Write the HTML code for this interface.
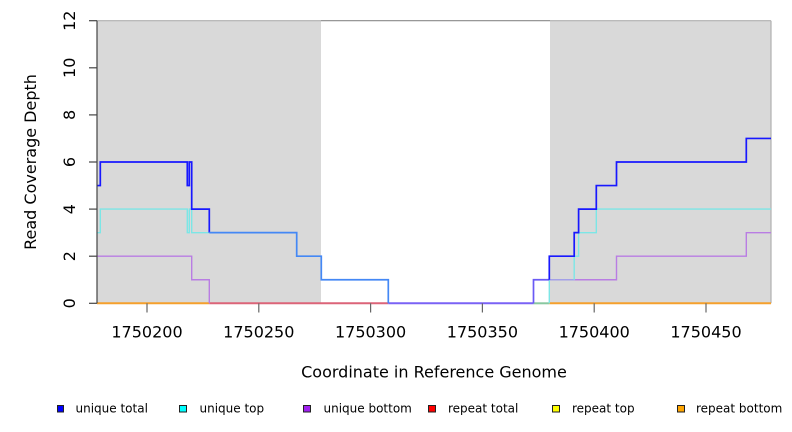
<!DOCTYPE html>
<html>
<head>
<meta charset="utf-8">
<style>
  html,body{margin:0;padding:0;background:#fff;}
  svg{display:block;}
  text{font-family:"DejaVu Sans","Liberation Sans",sans-serif;fill:#000;}
</style>
</head>
<body>
<svg width="792" height="432" viewBox="0 0 792 432" xmlns="http://www.w3.org/2000/svg">
  <rect x="0" y="0" width="792" height="432" fill="#ffffff"/>
  <!-- shaded regions -->
  <rect x="97" y="20.7" width="224" height="282.6" fill="#d9d9d9"/>
  <rect x="550" y="20.7" width="221" height="282.6" fill="#d9d9d9"/>

  <!-- plot box -->
  <line x1="321" y1="20.7" x2="550" y2="20.7" stroke="#8a8a8a" stroke-width="1.2"/>
  <line x1="97" y1="20.7" x2="321" y2="20.7" stroke="#b0b0b0" stroke-width="1.2"/>
  <line x1="550" y1="20.7" x2="771" y2="20.7" stroke="#b0b0b0" stroke-width="1.2"/>
  <line x1="771" y1="20.7" x2="771" y2="303.3" stroke="#b0b0b0" stroke-width="1.2"/>

  <!-- zero-level composite lines -->
  <g fill="none" stroke-width="2">
    <path d="M97,303.3 H209.3" stroke="#f5a02c"/>
    <path d="M209.3,303.3 H388.3" stroke="#dc6478"/>
    <path d="M388.3,303.3 H533.5" stroke="#7a62f5"/>
    <path d="M533.5,303.3 H549.3" stroke="#88c8a0"/>
    <path d="M549.3,303.3 H771" stroke="#f5a02c"/>
  </g>

  <!-- unique bottom (purple) -->
  <g fill="none" stroke="#b97de3" stroke-width="1.4">
    <path d="M97,256.2 H191.7 V279.75 H209.3 V303.3"/>
    <path d="M574.2,279.75 H616.5 V256.2 H746.3 V232.65 H771"/>
  </g>
  <path d="M549.3,279.75 H574.2" fill="none" stroke="#a3a0e8" stroke-width="1.6"/>

  <!-- unique top (cyan) -->
  <g fill="none" stroke="#7ce6e6" stroke-width="1.4">
    <path d="M97,232.65 H100.3 V209.1 H187.3 V232.65 H189.3 V209.1 H191.7 V232.65 H209.3"/>
    <path d="M549.3,303.3 V279.75"/>
    <path d="M574.2,279.75 V256.2 H578.6 V232.65 H596.3 V209.1 H771"/>
  </g>

  <!-- unique total (blue) -->
  <g fill="none" stroke-width="1.7">
    <path d="M97,185.55 H100.3 V162 H187.3 V185.55 H189.3 V162 H191.7 V209.1 H209.3 V232.65" stroke="#1818ff"/>
    <path d="M209.3,232.65 H296.7 V256.2 H321.3 V279.75 H388.3 V303.3" stroke="#4488f5"/>
    <path d="M533.5,303.3 V279.75 H549.3" stroke="#6a5af5"/>
    <path d="M549.3,279.75 V256.2 H574.2 V232.65 H578.6 V209.1 H596.3 V185.55 H616.5 V162 H746.3 V138.45 H771" stroke="#1818ff"/>
  </g>

  <!-- y axis -->
  <g stroke="#444" stroke-width="1.2">
    <line x1="97" y1="20.7" x2="97" y2="303.3"/>
    <line x1="89" y1="303.3" x2="97" y2="303.3"/>
    <line x1="89" y1="256.2" x2="97" y2="256.2"/>
    <line x1="89" y1="209.1" x2="97" y2="209.1"/>
    <line x1="89" y1="162" x2="97" y2="162"/>
    <line x1="89" y1="114.9" x2="97" y2="114.9"/>
    <line x1="89" y1="67.8" x2="97" y2="67.8"/>
    <line x1="89" y1="20.7" x2="97" y2="20.7"/>
  </g>
  <g font-size="16" text-anchor="middle">
    <text transform="translate(75,303.3) rotate(-90)">0</text>
    <text transform="translate(75,256.2) rotate(-90)">2</text>
    <text transform="translate(75,209.1) rotate(-90)">4</text>
    <text transform="translate(75,162) rotate(-90)">6</text>
    <text transform="translate(75,114.9) rotate(-90)">8</text>
    <text transform="translate(75,67.8) rotate(-90)">10</text>
    <text transform="translate(75,20.7) rotate(-90)">12</text>
    <text transform="translate(36,162) rotate(-90)">Read Coverage Depth</text>
  </g>

  <!-- x axis ticks -->
  <g stroke="#666" stroke-width="1.2">
    <line x1="147" y1="303.3" x2="147" y2="312.5"/>
    <line x1="258.8" y1="303.3" x2="258.8" y2="312.5"/>
    <line x1="370.6" y1="303.3" x2="370.6" y2="312.5"/>
    <line x1="482.4" y1="303.3" x2="482.4" y2="312.5"/>
    <line x1="594.2" y1="303.3" x2="594.2" y2="312.5"/>
    <line x1="706" y1="303.3" x2="706" y2="312.5"/>
  </g>
  <g font-size="16" text-anchor="middle">
    <text x="147" y="337.5">1750200</text>
    <text x="258.8" y="337.5">1750250</text>
    <text x="370.6" y="337.5">1750300</text>
    <text x="482.4" y="337.5">1750350</text>
    <text x="594.2" y="337.5">1750400</text>
    <text x="706" y="337.5">1750450</text>
    <text x="434" y="377.5">Coordinate in Reference Genome</text>
  </g>

  <!-- legend -->
  <g stroke="#222" stroke-width="1">
    <rect x="57.5" y="405.5" width="6" height="6.5" fill="#0000ff"/>
    <rect x="179.5" y="405.5" width="7" height="6.5" fill="#00ffff"/>
    <rect x="303.5" y="405.5" width="7" height="6.5" fill="#a020f0"/>
    <rect x="428.5" y="405.5" width="7" height="6.5" fill="#ff0000"/>
    <rect x="552.5" y="405.5" width="7" height="6.5" fill="#ffff00"/>
    <rect x="677.5" y="405.5" width="7" height="6.5" fill="#ffa500"/>
  </g>
  <g font-size="12">
    <text x="75.5" y="412.5">unique total</text>
    <text x="199.5" y="412.5">unique top</text>
    <text x="323.5" y="412.5">unique bottom</text>
    <text x="448" y="412.5">repeat total</text>
    <text x="572" y="412.5">repeat top</text>
    <text x="696" y="412.5">repeat bottom</text>
  </g>
</svg>
</body>
</html>
